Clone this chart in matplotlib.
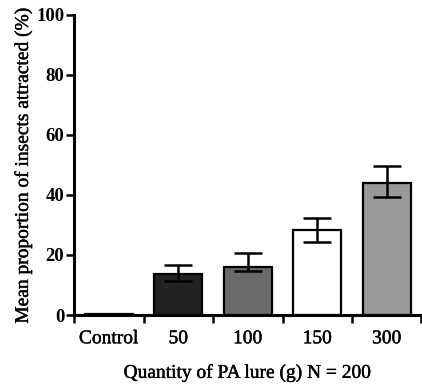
import numpy as np
import matplotlib.pyplot as plt
import matplotlib.patheffects as pe

# values
categories = ["Control", "50", "100", "150", "300"]
means = [0.3, 13.7, 16.1, 28.3, 43.8]
err_low = [0.0, 2.4, 1.5, 4.1, 4.5]
err_high = [0.0, 2.9, 4.6, 3.9, 5.8]
bar_colors = ["#000000", "#222222", "#6a6a6a", "#ffffff", "#999999"]
y_ticks = [0, 20, 40, 60, 80, 100]

plt.rcParams['font.family'] = ['Liberation Serif', 'DejaVu Serif']
thick = [pe.withStroke(linewidth=0.3, foreground="black")]

fig = plt.figure(figsize=(4.22, 3.85), dpi=100)
ax = fig.add_axes([0.1754, 0.1818, 0.9988 - 0.1754, 0.9623 - 0.1818])

x = np.arange(len(categories))
ax.bar(x, means, width=0.69, color=bar_colors, edgecolor="black", linewidth=1.6, zorder=2)
# error bars only where there is a spread
idx = [i for i in x if err_low[i] + err_high[i] > 0]
ax.errorbar(x[idx], np.array(means)[idx],
            yerr=[np.array(err_low)[idx], np.array(err_high)[idx]],
            fmt="none", ecolor="black", elinewidth=1.8, capsize=10.4, capthick=1.8, zorder=3)

ax.set_xlim(-0.5, len(categories) - 0.5)
ax.set_ylim(0, 100)
ax.set_yticks(y_ticks)
ax.set_yticklabels([str(t) for t in y_ticks], fontweight="bold", fontsize=13.5)
ax.set_xticks(x)
ax.set_xticklabels(categories, fontsize=14)
ax.set_xticks(np.arange(-0.5, len(categories)), minor=True)
ax.tick_params(axis="x", which="major", length=0, pad=11)
ax.tick_params(axis="x", which="minor", length=6, width=1.8, direction="out")
ax.tick_params(axis="y", length=6, width=1.8, direction="out", pad=1)
for lab in ax.get_xticklabels():
    lab.set_path_effects(thick)

for side in ["top", "right"]:
    ax.spines[side].set_visible(False)
for side in ["left", "bottom"]:
    ax.spines[side].set_linewidth(2.2)
ax.spines["bottom"].set_zorder(4)

ax.set_xlabel("Quantity of PA lure (g) N = 200", fontsize=14, labelpad=12, path_effects=thick)
ax.set_ylabel("Mean proportion of insects attracted (%)", fontsize=14, labelpad=3, path_effects=thick)

fig.savefig("out.png", dpi=100)
